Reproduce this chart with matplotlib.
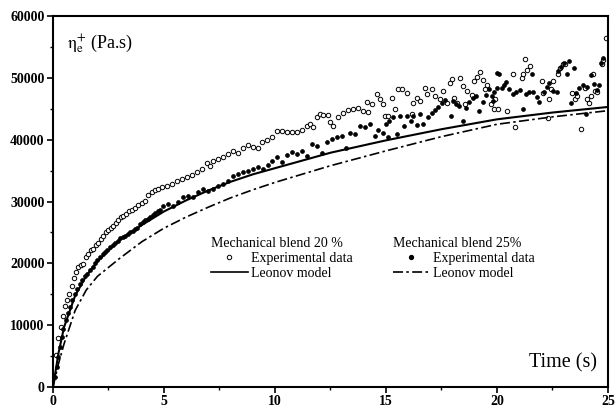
import matplotlib
matplotlib.use("Agg")
import matplotlib.pyplot as plt
from matplotlib.lines import Line2D
from matplotlib.ticker import MultipleLocator

plt.rcParams['font.family'] = ['Liberation Serif', 'DejaVu Serif']
plt.rcParams['mathtext.fontset'] = 'stix'

# Experimental data, blend 20 % (open circles)
t_exp20 = [0.14, 0.24, 0.35, 0.44, 0.54, 0.65, 0.74, 0.84, 0.95, 1.04, 1.14, 1.25, 1.37, 1.49, 1.59,
           1.70, 1.82, 1.94, 2.04, 2.15, 2.27, 2.39, 2.49, 2.60, 2.72, 2.84, 2.94, 3.06, 3.17, 3.29,
           3.41, 3.55, 3.69, 3.84, 4.00, 4.14, 4.29, 4.45, 4.59, 4.74,
           4.90, 5.12, 5.35, 5.57, 5.80, 6.02, 6.25, 6.47, 6.70, 6.92, 7.07, 7.22, 7.45, 7.67, 7.90,
           8.12, 8.35, 8.57, 8.80, 9.02, 9.25, 9.40, 9.63, 9.85,
           10.08, 10.30, 10.53, 10.75, 10.98, 11.20, 11.43, 11.58, 11.73, 11.88, 12.03, 12.18, 12.40,
           12.48, 12.63, 12.85, 13.08, 13.30, 13.53, 13.75, 13.98, 14.13, 14.20, 14.36, 14.58, 14.73,
           14.88, 14.95,
           15.10, 15.26, 15.41, 15.56, 15.71, 15.93, 16.16, 16.23, 16.38, 16.53, 16.76, 16.83, 17.06,
           17.21, 17.43, 17.58, 17.73, 17.88, 17.96, 18.06, 18.21, 18.33, 18.45, 18.56, 18.66, 18.86,
           18.96, 19.11, 19.23, 19.36, 19.46, 19.56, 19.72, 19.86,
           19.91, 20.06, 20.44, 20.74, 20.81, 21.11, 21.19, 21.26, 21.37, 21.49, 22.01, 22.09, 22.31,
           22.36, 22.42, 22.51, 22.76, 22.84, 22.96, 23.06, 23.36, 23.51, 23.62, 23.77, 23.96, 24.04,
           24.16, 24.22, 24.34, 24.43, 24.52, 24.71, 24.79, 24.91]
eta_exp20 = [5160, 7950, 9730, 11500, 13100, 14150, 15100, 16300, 17600, 18600, 19400, 19700, 19950, 21100, 21450,
             22100, 22400, 22900, 23300, 24000, 24500, 25050, 25400, 25750, 26100, 26500, 27050, 27470, 27740, 28000,
             28400, 28660, 29000, 29470, 29800, 30160, 31080, 31500, 31900, 32050,
             32300, 32580, 32850, 33280, 33660, 34030, 34360, 34730, 35280, 36180, 35810, 36620, 36890, 37150, 37700,
             38230, 37800, 38660, 39200, 38760, 38660, 39570, 39950, 40370,
             41400, 41450, 41290, 41290, 41290, 41620, 42150, 42530, 41990, 43600, 44150, 43990, 43990,
             42800, 42260, 43600, 44310, 44840, 45050, 45210, 44680, 46130, 44410, 45760, 47370, 46660,
             45760, 43870,
             43870, 46830, 44950, 48180, 48280, 47630, 44150, 46020, 46830, 46290, 48440, 47370, 48180,
             47100, 46570, 47900, 46020, 49250, 49790, 46830, 46020, 49950, 48710, 45760, 47900, 47210,
             49520, 50210, 50970, 49680, 48180, 48830, 45760, 45050,
             46570, 44950, 44680, 50600, 41990, 50050, 50600, 53020, 51250, 51940, 49520, 47630, 43440,
             46570, 48180, 49520, 50600, 51560, 52210, 52310, 47630, 46570, 47100, 41730, 48440, 46570,
             46020, 47100, 50600, 47900, 47790, 52210, 52850, 56500]

# Experimental data, blend 25 % (filled dots)
t_exp25 = [0.09, 0.17, 0.24, 0.32, 0.39, 0.47, 0.57, 0.66, 0.77, 0.87, 0.99, 1.10, 1.22, 1.32, 1.44,
           1.55, 1.67, 1.79, 1.89, 2.00, 2.12, 2.24, 2.34, 2.45, 2.57, 2.69, 2.79, 2.91, 3.02, 3.14,
           3.24, 3.36, 3.47, 3.59, 3.69, 3.80, 3.92, 4.04, 4.14, 4.27, 4.37, 4.49, 4.59, 4.72, 4.82,
           4.97, 5.20, 5.42, 5.65, 5.87, 6.09, 6.32, 6.55, 6.77, 7.00, 7.22, 7.45, 7.67, 7.90, 8.12,
           8.35, 8.57, 8.80, 9.02, 9.25, 9.47, 9.70,
           9.85, 10.08, 10.30, 10.53, 10.75, 10.98, 11.20, 11.43, 11.65, 11.88, 12.10, 12.33, 12.55,
           12.78, 13.00, 13.20, 13.38, 13.60, 13.83, 14.05, 14.28, 14.50, 14.65, 14.88,
           15.00, 15.10, 15.15, 15.30, 15.51, 15.63, 15.81, 15.96, 16.11, 16.23, 16.38, 16.53, 16.68,
           16.91, 17.06, 17.21, 17.36, 17.51, 17.66, 17.91, 18.00, 18.15, 18.30, 18.45, 18.60, 18.75,
           18.91, 19.05, 19.20, 19.36, 19.50, 19.65, 19.76, 19.81, 19.86, 19.99,
           20.01, 20.09, 20.21, 20.32, 20.41, 20.56, 20.71, 20.86, 21.04, 21.19, 21.31, 21.46, 21.56,
           21.64, 21.79, 21.91, 22.12, 22.24, 22.36, 22.54, 22.69, 22.76, 22.87, 23.02, 23.17, 23.24,
           23.32, 23.47, 23.56, 23.71, 23.86, 24.01, 24.07, 24.22, 24.37, 24.52, 24.61, 24.67, 24.76]
eta_exp25 = [1660, 3280, 4900, 6500, 8100, 9470, 10800, 11900, 12950, 14000, 15000, 15900, 16700, 17260, 17900,
             18300, 19000, 19400, 20050, 20500, 21000, 21560, 21830, 22200, 22600, 22900, 23300, 23700, 24150, 24350,
             24500, 24800, 25050, 25300, 25500, 25750, 26400, 26660, 26940, 27200, 27580, 27900, 28100, 28450, 28660,
             29360, 29630, 29360, 29890, 30700, 30970, 30800, 31500, 32050, 31780, 32050, 32580, 32860, 33390, 34200,
             34470, 34730, 35000, 35280, 35650, 35280, 35970,
             36610, 37150, 36340, 37530, 37950, 37690, 38230, 37420, 39310, 38920, 37860, 39570, 40110,
             40370, 40650, 38600, 41080, 40920, 42260, 41990, 42530, 40650, 41620, 41080,
             42530, 40370, 43070, 43600, 40920, 43870, 42260, 43870, 43070, 43870, 42370, 44150, 42530,
             43600, 44310, 44840, 45370, 46020, 46450, 43870, 46290, 45760, 45490, 43070, 45210, 46130,
             46830, 47100, 44680, 46130, 47210, 48280, 47100, 46290, 47790, 50750,
             48340, 50700, 48440, 48870, 49410, 48180, 47470, 47790, 48020, 44950, 47470, 47790, 50600,
             47790, 46940, 46180, 47790, 48550, 49250, 47900, 47790, 51130, 51780, 52470, 50700, 52740,
             46020, 51670, 47630, 48440, 48870, 44150, 48550, 50490, 49090, 48020, 48870, 52470, 53170]

# Leonov model curves
t_model = [0, 0.25, 0.5, 1, 1.5, 2, 3, 4, 5, 6, 7, 8, 9, 10, 12.5, 15, 17.5, 20, 22.5, 25]
eta_leonov20 = [0, 5500, 9700, 14800, 18000, 20300, 23800, 26200, 28400, 30200, 31800, 33200,
                34400, 35400, 37900, 39900, 41700, 43300, 44400, 45300]
eta_leonov25 = [0, 3800, 7000, 12400, 15700, 17900, 20800, 23500, 25700, 27500, 29100, 30600,
                31900, 33100, 35800, 38200, 40500, 42500, 43700, 44700]

dashdot = (0, (6, 2, 1.5, 2))

fig = plt.figure(figsize=(6.16, 4.07), dpi=100)
ax = fig.add_axes([0.086, 0.049, 0.901, 0.9115])

ax.plot(t_exp20, eta_exp20, linestyle='none', marker='o', markersize=3.2,
        markerfacecolor='white', markeredgecolor='black', markeredgewidth=0.7)
ax.plot(t_exp25, eta_exp25, linestyle='none', marker='o', markersize=2.8,
        markerfacecolor='black', markeredgecolor='black', markeredgewidth=0.5)
ax.plot(t_model, eta_leonov20, color='black', linewidth=1.5, linestyle='-')
ax.plot(t_model, eta_leonov25, color='black', linewidth=1.2, linestyle=dashdot)

ax.set_xlim(0, 25)
ax.set_ylim(0, 60000)
ax.xaxis.set_major_locator(MultipleLocator(5))
ax.xaxis.set_minor_locator(MultipleLocator(2.5))
ax.yaxis.set_major_locator(MultipleLocator(10000))
ax.yaxis.set_minor_locator(MultipleLocator(5000))
ax.tick_params(which='major', direction='out', length=4, width=1.2, labelsize=10, pad=2)
ax.tick_params(which='minor', direction='out', length=2.5, width=1.0)
for lbl in ax.get_xticklabels() + ax.get_yticklabels():
    lbl.set_fontweight('bold')
for sp in ax.spines.values():
    sp.set_linewidth(1.5)

ax.text(0.025, 0.925, r'$\mathrm{\eta}^{+}_{\mathrm{e}}$ (Pa.s)', transform=ax.transAxes,
        fontsize=13, ha='left', va='center')
ax.text(0.98, 0.065, 'Time (s)', transform=ax.transAxes, fontsize=14.5,
        ha='right', va='center')

h_circ = Line2D([], [], linestyle='none', marker='o', markersize=3.2,
                markerfacecolor='white', markeredgecolor='black', markeredgewidth=0.7)
h_dot = Line2D([], [], linestyle='none', marker='o', markersize=2.8,
               markerfacecolor='black', markeredgecolor='black')
h_solid = Line2D([], [], color='black', linewidth=1.2, linestyle='-')
h_dd = Line2D([], [], color='black', linewidth=1.2, linestyle=dashdot)

leg_kw = dict(frameon=False, fontsize=10, title_fontsize=10, alignment='left',
              handlelength=2.7, handletextpad=0.2, labelspacing=0.15,
              borderpad=0, borderaxespad=0, loc='upper left')
leg1 = ax.legend([h_circ, h_solid], ['Experimental data', 'Leonov model'],
                 title='Mechanical blend 20 %', bbox_to_anchor=(0.284, 0.405), **leg_kw)
ax.add_artist(leg1)
leg2 = ax.legend([h_dot, h_dd], ['Experimental data', 'Leonov model'],
                 title='Mechanical blend 25%', bbox_to_anchor=(0.612, 0.405), **leg_kw)

fig.savefig('out.png', dpi=100)
